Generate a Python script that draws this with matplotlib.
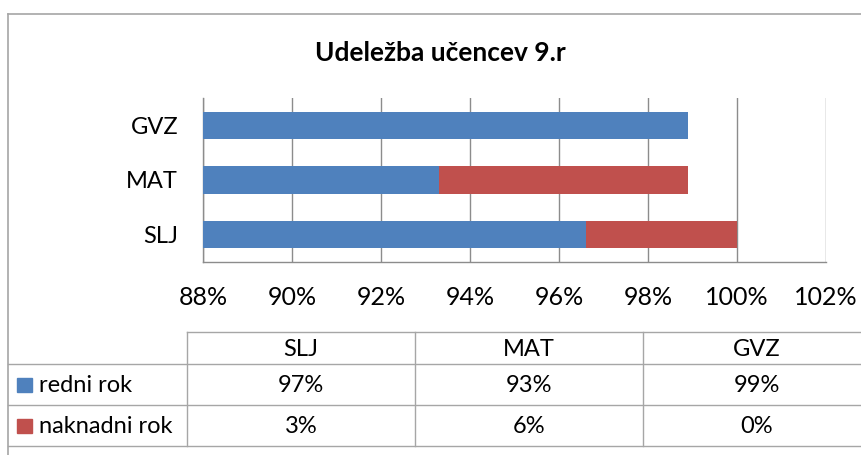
import numpy as np
import matplotlib
matplotlib.use("Agg")
import matplotlib.pyplot as plt
from matplotlib.lines import Line2D
from matplotlib.patches import Rectangle

plt.rcParams['font.family'] = ['Lato', 'DejaVu Sans']

# data
subjects = ["SLJ", "MAT", "GVZ"]
redni = [96.6, 93.3, 98.9]
naknadni = [3.4, 5.6, 0.0]
series_names = ["redni rok", "naknadni rok"]
title = "Udeležba učencev 9.r"
xticks = [88, 90, 92, 94, 96, 98, 100, 102]

BLUE = "#4F81BD"
RED = "#C0504D"
GRID = "#8C8C8C"
BORDER = "#A6A6A6"

W, H = 861, 455
fig = plt.figure(figsize=(W / 100, H / 100), dpi=100)

# plot area in pixels
L, R, T, B = 203, 826, 98, 262
ax = fig.add_axes([L / W, 1 - B / H, (R - L) / W, (B - T) / H])
y = np.arange(len(subjects))
ax.barh(y, redni, height=0.5, color=BLUE, left=0, zorder=3)
ax.barh(y, naknadni, height=0.5, left=redni, color=RED, zorder=3)
ax.set_xlim(88, 102)
ax.set_ylim(-0.5, 2.5)
ax.set_xticks(xticks)
ax.set_xticklabels([f"{t}%" for t in xticks], fontsize=18)
ax.set_yticks(y)
ax.set_yticklabels(subjects, fontsize=17)
ax.tick_params(length=0)
ax.tick_params(axis='x', pad=17)
ax.tick_params(axis='y', pad=18)
ax.grid(axis='x', color=GRID, linewidth=1, zorder=0)
for s in ["top", "right"]:
    ax.spines[s].set_visible(False)
for s in ["left", "bottom"]:
    ax.spines[s].set_color(GRID)
    ax.spines[s].set_linewidth(1)

# overlay in pixel coords for title, border and data table
ov = fig.add_axes([0, 0, 1, 1], zorder=-1)
ov.set_xlim(0, W)
ov.set_ylim(H, 0)
ov.axis("off")
ov.text(440, 53, title, fontsize=19, fontweight="bold", ha="center", va="center")

# outer chart border
ov.add_line(Line2D([8, W], [14, 14], color=BORDER, lw=1.2))
ov.add_line(Line2D([8, 8], [14, H], color=BORDER, lw=1.2))

# table grid
col_x = [187, 415, 643, 871]
row_y = [332, 364, 405, 446]
ov.add_line(Line2D([col_x[0], W], [row_y[0], row_y[0]], color=BORDER, lw=1))
for ry in row_y[1:]:
    ov.add_line(Line2D([8, W], [ry, ry], color=BORDER, lw=1))
for cx in col_x[:3]:
    ov.add_line(Line2D([cx, cx], [row_y[0], row_y[-1]], color=BORDER, lw=1))

for i, s in enumerate(subjects):
    cx = (col_x[i] + col_x[i + 1]) / 2
    ov.text(cx, (row_y[0] + row_y[1]) / 2 + 1, s, fontsize=17, ha="center", va="center")
    ov.text(cx, (row_y[1] + row_y[2]) / 2 + 1, f"{round(redni[i])}%", fontsize=17, ha="center", va="center")
    ov.text(cx, (row_y[2] + row_y[3]) / 2 + 1, f"{round(naknadni[i])}%", fontsize=17, ha="center", va="center")

for j, (name, col) in enumerate(zip(series_names, [BLUE, RED])):
    cy = (row_y[j + 1] + row_y[j + 2]) / 2
    ov.add_patch(Rectangle((17, cy - 7), 15, 14, color=col))
    ov.text(39, cy + 1, name, fontsize=17, ha="left", va="center")

fig.savefig("out.png", dpi=100, facecolor="white")
